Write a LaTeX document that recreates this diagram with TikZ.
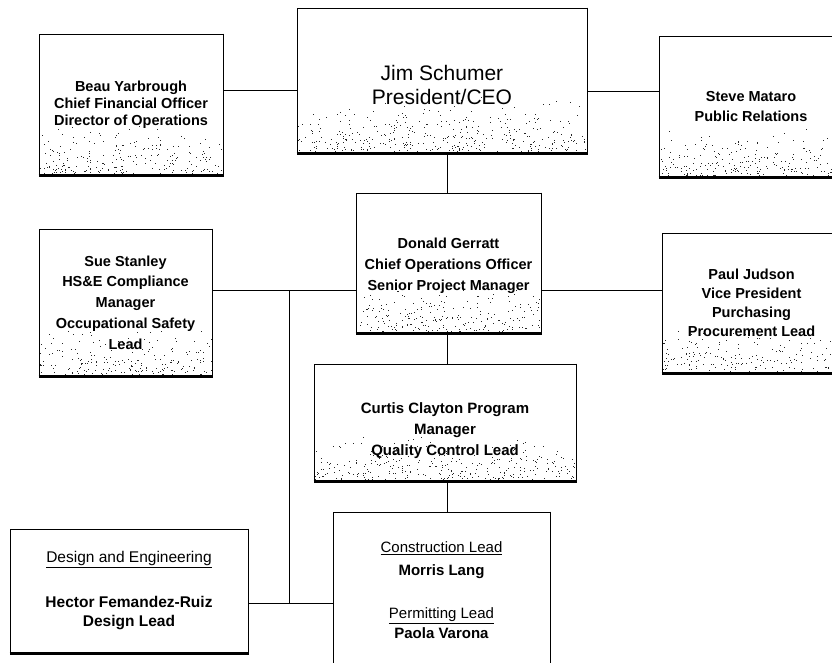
\documentclass[tikz,border=0pt]{standalone}
\usepackage{fontspec}
\setmainfont{Liberation Sans}
\usetikzlibrary{calc,backgrounds}
\newcommand{\stip}[3]{%
  \foreach \i in {1,...,#2}{%
    \pgfmathsetmacro\uu{rnd}%
    \pgfmathsetmacro\vv{#3+(1-#3)*pow(rnd,0.42)}%
    \coordinate (sl) at ($(#1.north west)!\vv!(#1.south west)$);
    \coordinate (sr) at ($(#1.north east)!\vv!(#1.south east)$);
    \fill[black!85] ($(sl)!\uu!(sr)$) rectangle ++(1,1);
  }}
\begin{document}
\begin{tikzpicture}[x=1pt,y=-1pt,
  box/.style={draw=black,line width=1pt,rectangle,align=center,inner sep=2pt,font=\bfseries\fontsize{14.5}{17}\selectfont},
  conn/.style={line width=1pt,black}]
\useasboundingbox (0,0) rectangle (832,662);

\node[box,minimum width=184pt,minimum height=141pt] (beau) at (131,104.5)
  {Beau Yarbrough\\Chief Financial Officer\\Director of Operations};
\node[box,minimum width=290pt,minimum height=145pt,font=\fontsize{21}{24}\selectfont] (jim) at (442,80.5)
  {\rule{0pt}{24pt}Jim Schumer\\President/CEO};
\node[box,minimum width=184pt,minimum height=141pt,font=\bfseries\fontsize{14.5}{20}\selectfont] (steve) at (751,106.5)
  {Steve Mataro\\Public Relations};
\node[box,minimum width=173pt,minimum height=147pt,font=\bfseries\fontsize{14.5}{20.7}\selectfont] (sue) at (125.5,302.5)
  {Sue Stanley\\HS\&E Compliance\\Manager\\Occupational Safety\\Lead};
\node[box,minimum width=185pt,minimum height=140pt,font=\bfseries\fontsize{14.5}{21}\selectfont] (donald) at (448.5,263)
  {\rule{0pt}{17pt}Donald Gerratt\\Chief Operations Officer\\Senior Project Manager};
\node[box,minimum width=179pt,minimum height=140pt,font=\bfseries\fontsize{14.5}{19}\selectfont] (paul) at (751.5,303)
  {Paul Judson\\Vice President\\Purchasing\\Procurement Lead};
\node[box,minimum width=262pt,minimum height=117pt,font=\bfseries\fontsize{15}{21}\selectfont] (curtis) at (445,422.5)
  {\rule{0pt}{28pt}Curtis Clayton Program\\Manager\\Quality Control Lead};
\node[box,minimum width=217pt,minimum height=156pt,font=\fontsize{15}{20}\selectfont] (constr) at (441.5,590)
  {\underline{Construction Lead}\\[3pt]\textbf{Morris Lang}\\[23pt]\underline{Permitting Lead}\\\textbf{Paola Varona}};
\node[box,minimum width=238pt,minimum height=124pt,font=\fontsize{15.5}{19}\selectfont] (design) at (129,591)
  {\underline{Design and Engineering}\\[26pt]\textbf{Hector Femandez-Ruiz}\\\textbf{Design Lead}};

\begin{pgfonlayer}{background}
  \fill[white] (0,0) rectangle (832,662);
  \pgfmathsetseed{7}
  \stip{beau}{250}{0.6}
  \stip{jim}{400}{0.6}
  \stip{steve}{250}{0.62}
  \stip{sue}{230}{0.64}
  \stip{donald}{250}{0.62}
  \stip{paul}{210}{0.66}
  \stip{curtis}{330}{0.6}
\end{pgfonlayer}

\foreach \n in {beau,jim,steve,sue,donald,paul,curtis,design}{
  \draw[line width=2.6pt] (\n.south west) -- (\n.south east);
  \draw[line width=1.8pt] (\n.north east) -- (\n.south east);
}
\draw[line width=1.6pt] (constr.north east) -- (constr.south east);

\coordinate (xa) at (447,0);
\coordinate (ya) at (0,90);
\coordinate (yb) at (0,91);
\coordinate (yc) at (0,290);
\coordinate (jn) at (289,290);
\coordinate (jd) at (289,603);

\draw[conn] (beau.east |- ya) -- (jim.west |- ya);
\draw[conn] (jim.east |- yb) -- (steve.west |- yb);
\draw[conn] (jim.south -| xa) -- (donald.north -| xa);
\draw[conn] (sue.east |- yc) -- (donald.west |- yc);
\draw[conn] (donald.east |- yc) -- (paul.west |- yc);
\draw[conn] (donald.south -| xa) -- (curtis.north -| xa);
\draw[conn] (curtis.south -| xa) -- (constr.north -| xa);
\draw[conn] (jn) -- (jd);
\draw[conn] (design.east |- jd) -- (constr.west |- jd);
\end{tikzpicture}
\end{document}
